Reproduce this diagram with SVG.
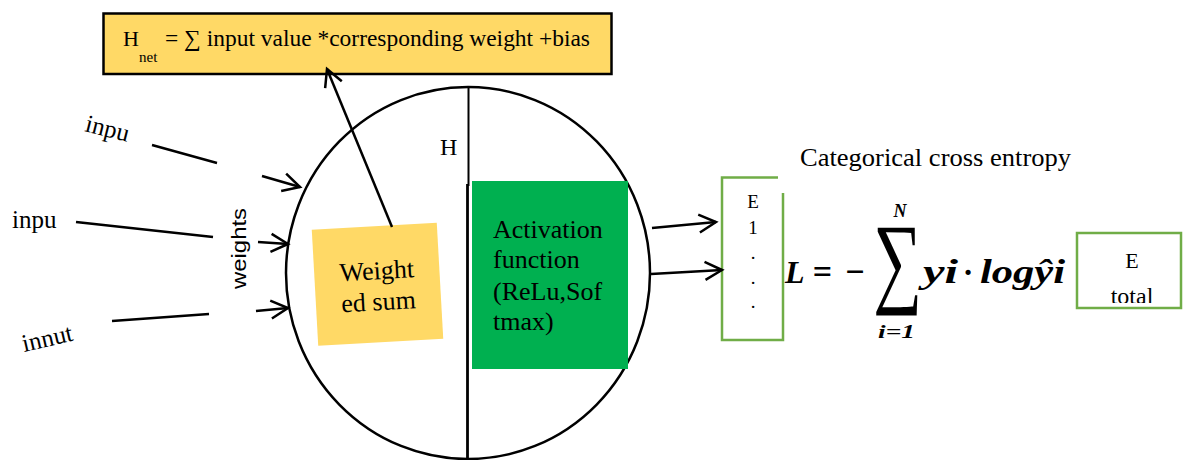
<svg xmlns="http://www.w3.org/2000/svg" width="1183" height="460" viewBox="0 0 1183 460">
  <style>
    .serif { font-family: "Liberation Serif", "Times New Roman", serif; fill: #000; }
    .sans { font-family: "Liberation Sans", Arial, sans-serif; fill: #000; }
    .math { font-family: "Liberation Serif", "Times New Roman", serif; font-weight: bold; font-style: italic; fill: #000; }
    .ln { stroke: #000; stroke-width: 2.5; fill: none; }
    .arrow { stroke: #000; stroke-width: 2.5; fill: none; marker-end: url(#open); }
    .note { fill: #FFD966; }
    .gbox { fill: none; stroke: #70AD47; stroke-width: 2.5; }
  </style>
  <defs>
    <marker id="open" markerUnits="userSpaceOnUse" markerWidth="24" markerHeight="24" viewBox="0 0 24 24" refX="21" refY="12" orient="auto">
      <path d="M4,3 L21,12 L4,21" fill="none" stroke="#000" stroke-width="2.5"/>
    </marker>
    <clipPath id="clipTotal"><rect x="1077" y="233" width="106" height="70"/></clipPath>
  </defs>

  <rect width="1183" height="460" fill="#fff"/>

  <!-- formula banner -->
  <g id="hnet-formula">
    <rect x="103.5" y="13.5" width="508" height="60.5" class="note" stroke="#000" stroke-width="2.5"/>
    <text class="serif" x="123" y="46" font-size="22">H</text>
    <text class="serif" x="139" y="62" font-size="15">net</text>
    <text class="serif" x="165" y="46" font-size="23" textLength="425" lengthAdjust="spacingAndGlyphs">= ∑ input value *corresponding weight +bias</text>
  </g>

  <!-- input labels -->
  <g id="inputs">
    <text class="serif" font-size="25" transform="translate(84,131) rotate(14)">inpu</text>
    <text class="serif" font-size="25" x="12" y="228">inpu</text>
    <text class="serif" font-size="25" transform="translate(24,352) rotate(-13)">innut</text>
    <text class="sans" font-size="20" textLength="81" lengthAdjust="spacingAndGlyphs" transform="translate(246,289) rotate(-90)">weights</text>
  </g>

  <!-- neuron -->
  <g id="neuron">
    <ellipse cx="468" cy="273" rx="182" ry="186" class="ln"/>
    <line x1="468.5" y1="87" x2="468.5" y2="186" stroke="#000" stroke-width="2"/>
    <line x1="467.5" y1="184" x2="467.5" y2="460" stroke="#000" stroke-width="2.8"/>
    <text class="serif" x="440" y="155" font-size="24">H</text>
  </g>

  <g id="weighted-sum" transform="translate(377.5,284.25) rotate(-3.2)">
    <rect x="-62.6" y="-58.1" width="125.2" height="116.2" class="note"/>
    <text class="serif" x="0" y="-5" font-size="26" text-anchor="middle">Weight</text>
    <text class="serif" x="0" y="26" font-size="26" text-anchor="middle">ed sum</text>
  </g>

  <g id="activation">
    <rect x="472" y="181" width="156" height="188" fill="#00B050"/>
    <text class="serif" x="493" y="238" font-size="26">Activation</text>
    <text class="serif" x="493" y="268" font-size="26">function</text>
    <text class="serif" x="493" y="300" font-size="26">(ReLu,Sof</text>
    <text class="serif" x="493" y="330" font-size="26">tmax)</text>
  </g>

  <!-- per-output errors -->
  <g id="errors">
    <path d="M778,177.5 H722 V340 H783 V193" class="gbox"/>
    <text class="serif" x="753" y="208" font-size="19" text-anchor="middle">E</text>
    <text class="serif" x="753" y="234" font-size="19" text-anchor="middle">1</text>
    <text class="serif" x="753" y="259" font-size="19" text-anchor="middle">.</text>
    <text class="serif" x="753" y="284" font-size="19" text-anchor="middle">.</text>
    <text class="serif" x="753" y="308" font-size="19" text-anchor="middle">.</text>
  </g>

  <!-- loss -->
  <g id="loss">
    <text class="serif" x="800" y="166" font-size="26" textLength="271" lengthAdjust="spacingAndGlyphs">Categorical cross entropy</text>
    <text class="math" x="785" y="283" font-size="32">L</text>
    <text class="serif" x="822.5" y="283" font-size="34" font-weight="bold" text-anchor="middle">=</text>
    <text class="serif" x="855" y="283" font-size="34" font-weight="bold" text-anchor="middle">−</text>
    <text class="serif" font-size="101" text-anchor="middle" transform="translate(897.5,294) scale(0.68,1)">∑</text>
    <text class="math" x="900" y="217" font-size="18" text-anchor="middle">N</text>
    <text class="math" x="878" y="338" font-size="19" textLength="37" lengthAdjust="spacingAndGlyphs">i=1</text>
    <text class="math" x="923" y="283" font-size="33" textLength="35" lengthAdjust="spacingAndGlyphs">yi</text>
    <text class="serif" x="968" y="283" font-size="32" font-weight="bold" text-anchor="middle">·</text>
    <text class="math" x="980" y="283" font-size="33" textLength="85" lengthAdjust="spacingAndGlyphs">logŷi</text>
  </g>

  <g id="total-error">
    <rect x="1077" y="233" width="104" height="75" class="gbox"/>
    <text class="serif" x="1132" y="268" font-size="22" text-anchor="middle">E</text>
    <text class="serif" x="1132" y="304" font-size="24" text-anchor="middle" clip-path="url(#clipTotal)">total</text>
  </g>

  <!-- connectors -->
  <g id="connectors">
    <line x1="152" y1="145" x2="217" y2="163" class="ln"/>
    <line x1="76" y1="222" x2="213" y2="237" class="ln"/>
    <line x1="112" y1="321" x2="209" y2="314" class="ln"/>
    <line x1="262" y1="176" x2="300" y2="187" class="arrow"/>
    <line x1="258" y1="242" x2="288" y2="244" class="arrow"/>
    <line x1="256" y1="311" x2="288" y2="308" class="arrow"/>
    <line x1="392" y1="227" x2="327" y2="69" class="arrow"/>
    <line x1="652" y1="228" x2="716" y2="222" class="arrow"/>
    <line x1="651" y1="274" x2="722" y2="270" class="arrow"/>
  </g>
</svg>
